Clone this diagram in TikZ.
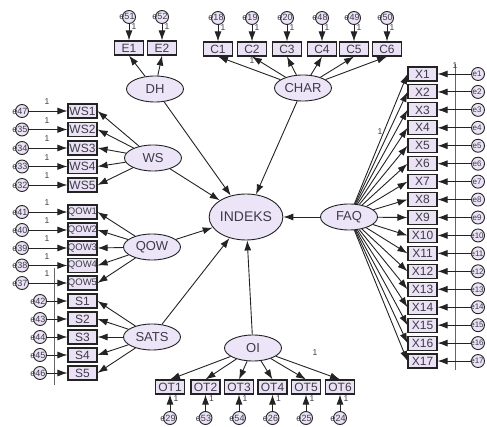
\documentclass[tikz,border=0pt]{standalone}
\usepackage{fontspec}
\setmainfont{Liberation Sans}
\usetikzlibrary{arrows.meta,shapes.geometric}
\definecolor{boxfill}{RGB}{236,226,245}
\definecolor{ellfill}{RGB}{236,228,247}
\definecolor{lineclr}{RGB}{35,35,35}
\definecolor{txt}{RGB}{60,60,72}
\tikzset{
 obs/.style={draw=lineclr, line width=1.1pt, fill=boxfill, minimum width=29pt, minimum height=14pt, inner sep=0pt, font=\fontsize{12}{12}\selectfont, text=txt},
 lat/.style={ellipse, draw=lineclr, line width=0.9pt, fill=ellfill, minimum width=57pt, minimum height=26pt, inner sep=0pt, font=\fontsize{13}{13}\selectfont, text=txt},
 err/.style={circle, draw=lineclr, line width=0.9pt, fill=boxfill, minimum size=13pt, inner sep=0pt},
 elab/.style={font=\fontsize{9}{9}\selectfont, text=txt, inner sep=0pt},
 one/.style={font=\fontsize{8.5}{8.5}\selectfont, text=txt, inner sep=0pt},
 arr/.style={draw=lineclr, line width=0.9pt, -{Latex[length=10pt,width=7pt]}},
 thinline/.style={draw=lineclr!70, line width=0.5pt},
}
\begin{document}
\begin{tikzpicture}[x=1pt,y=-1pt]
\useasboundingbox (0,0) rectangle (487,427);

% vertical helper lines
\coordinate (vlA) at (54,268);
\coordinate (vlB) at (54,385);
\coordinate (vrA) at (455,64);
\coordinate (vrB) at (455,370);
\draw[thinline] (vlA) -- (vlB);
\draw[thinline] (vrA) -- (vrB);

% central
\node[lat, minimum width=68pt, minimum height=46pt, font=\fontsize{14}{14}\selectfont] (INDEKS) at (246,217) {INDEKS};

% DH
\node[lat] (DH) at (155,89) {DH};
\node[obs] (E1) at (129,48) {E1};
\node[obs] (E2) at (162,48) {E2};
\foreach \b/\x/\e in {E1/129/51,E2/162/52}{
  \node[err] (e\e) at (\x,17) {};
  \node[elab] at (\x-2,16) {e\e};
  \draw[arr] (e\e) -- (\b.north);
  \node[one] at (\x+5,27) {1};
  \draw[arr] (DH) -- (\b.south);
}

% CHAR
\node[lat] (CHAR) at (303,88) {CHAR};
\foreach \i/\x/\e in {1/218/18,2/252/19,3/287/20,4/322/48,5/354/49,6/387/50}{
  \node[obs] (C\i) at (\x,49) {C\i};
  \node[err] (e\e) at (\x,18) {};
  \node[elab] at (\x-2,17) {e\e};
  \draw[arr] (e\e) -- (C\i.north);
  \node[one] at (\x+5,28) {1};
  \draw[arr] (CHAR) -- (C\i.south);
}
\node[one] at (252,61) {1};

% WS
\node[lat] (WS) at (153,158) {WS};
\foreach \i/\y/\e in {1/111/47,2/129.5/35,3/148/34,4/166.5/33,5/185/32}{
  \node[obs] (WS\i) at (82.5,\y) {WS\i};
  \node[err] (e\e) at (22,\y) {};
  \node[elab] at (20,\y) {e\e};
  \draw[arr] (e\e) -- (WS\i.west);
  \node[one] at (47,\y-9) {1};
  \draw[arr] (WS) -- (WS\i.east);
}

% QOW
\node[lat] (QOW) at (152,247) {QOW};
\foreach \i/\y/\e in {1/212/41,2/230/40,3/248/39,4/265.5/38,5/283/37}{
  \node[obs, font=\fontsize{9.5}{9.5}\selectfont] (QOW\i) at (82.5,\y) {QOW\i};
  \node[err] (e\e) at (22,\y) {};
  \node[elab] at (20,\y) {e\e};
  \draw[arr] (e\e) -- (QOW\i.west);
  \node[one] at (47,\y-9) {1};
  \draw[arr] (QOW) -- (QOW\i.east);
}

% SATS
\node[lat] (SATS) at (152,337) {SATS};
\foreach \i/\y/\e in {1/301/42,2/319/43,3/337/44,4/355/45,5/373/46}{
  \node[obs] (S\i) at (82.5,\y) {S\i};
  \node[err] (e\e) at (40,\y) {};
  \node[elab] at (38,\y) {e\e};
  \draw[arr] (e\e) -- (S\i.west);
  \draw[arr] (SATS) -- (S\i.east);
}

% OI
\node[lat] (OI) at (253,348) {OI};
\foreach \i/\x/\e in {1/170/29,2/205.5/53,3/239/54,4/272.5/26,5/306/25,6/340/24}{
  \node[obs] (OT\i) at (\x,387) {OT\i};
  \node[err] (e\e) at (\x,418) {};
  \node[elab] at (\x-2,418) {e\e};
  \draw[arr] (e\e) -- (OT\i.south);
  \node[one] at (\x+6,399) {1};
  \draw[arr] (OI) -- (OT\i.north);
}
\node[one] at (315,353) {1};

% FAQ
\node[lat] (FAQ) at (349,217) {FAQ};
\foreach \i in {1,...,17}{
  \pgfmathsetmacro{\yy}{74+17.94*(\i-1)}
  \node[obs] (X\i) at (422.5,\yy) {X\i};
  \node[err] (e\i) at (478,\yy) {};
  \node[elab, font=\fontsize{8}{8}\selectfont] at (477,\yy) {e\i};
  \draw[arr] (e\i) -- (X\i.east);
  \draw[arr] (FAQ) -- (X\i.west);
}
\node[one] at (455,66) {1};
\node[one] at (380,132) {1};

% structural paths
\draw[arr] (DH) -- (INDEKS);
\draw[arr] (CHAR) -- (INDEKS);
\draw[arr] (WS) -- (INDEKS);
\draw[arr] (QOW) -- (INDEKS);
\draw[arr] (SATS) -- (INDEKS);
\draw[arr] (OI) -- (INDEKS);
\draw[arr] (FAQ) -- (INDEKS);
\end{tikzpicture}
\end{document}
